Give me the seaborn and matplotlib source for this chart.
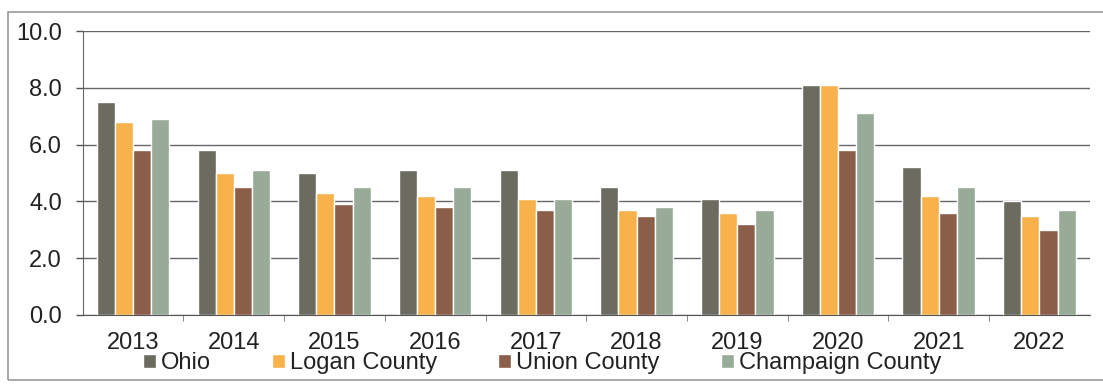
import matplotlib
matplotlib.use("Agg")
import matplotlib.pyplot as plt
import seaborn as sns
import pandas as pd
from matplotlib.patches import Rectangle

years = ["2013", "2014", "2015", "2016", "2017", "2018", "2019", "2020", "2021", "2022"]
ohio = [7.5, 5.8, 5.0, 5.1, 5.1, 4.5, 4.1, 8.1, 5.2, 4.0]
logan = [6.8, 5.0, 4.3, 4.2, 4.1, 3.7, 3.6, 8.1, 4.2, 3.5]
union = [5.8, 4.5, 3.9, 3.8, 3.7, 3.5, 3.2, 5.8, 3.6, 3.0]
champaign = [6.9, 5.1, 4.5, 4.5, 4.1, 3.8, 3.7, 7.1, 4.5, 3.7]

series = ["Ohio", "Logan County", "Union County", "Champaign County"]
colors = ["#6b6b5f", "#f7b24c", "#8a5e48", "#98aa98"]

rows = []
for name, vals in zip(series, [ohio, logan, union, champaign]):
    for y, v in zip(years, vals):
        rows.append({"year": y, "series": name, "value": v})
df = pd.DataFrame(rows)

sns.set_style("white")
plt.rcParams["font.family"] = ["Liberation Sans", "DejaVu Sans"]

fig = plt.figure(figsize=(11.03, 3.85), dpi=100)
ax = fig.add_axes([0.075, 0.182, 0.913, 0.737])

sns.barplot(data=df, x="year", y="value", hue="series", palette=colors,
            width=0.72, gap=0, saturation=1, ax=ax, legend=True)

ticks = [0, 2, 4, 6, 8, 10]
ax.set_ylim(0, 10)
ax.set_yticks(ticks)
ax.set_yticklabels([f"{t:.1f}" for t in ticks], fontsize=17, color="#222222")
ax.tick_params(axis="x", labelsize=17, labelcolor="#222222", length=0, pad=12)
ax.tick_params(axis="y", length=5, width=1, color="#555555", direction="out", pad=10, left=True)
ax.yaxis.grid(True, color="#666666", linewidth=1)
ax.set_axisbelow(True)
ax.set_xlabel("")
ax.set_ylabel("")
for s in ["top", "right"]:
    ax.spines[s].set_visible(False)
ax.spines["left"].set_color("#666666")
ax.spines["bottom"].set_color("#555555")
ax.set_xlim(-0.5, len(years) - 0.5)
# small ticks between categories
ax.set_xticks([i + 0.5 for i in range(len(years) - 1)], minor=True)
ax.tick_params(axis="x", which="minor", length=4, color="#777777", bottom=True)

handles, labels = ax.get_legend_handles_labels()
ax.legend_.remove()
fig.legend(handles, labels, loc="center left", bbox_to_anchor=(143 / 1103, 1 - 363 / 385),
           ncol=4, frameon=False, fontsize=17, handlelength=0.55, handleheight=0.55,
           handletextpad=0.2, columnspacing=2.6, borderaxespad=0, borderpad=0,
           labelcolor="#222222")

fig.patches.append(Rectangle((0.007, 0.014), 0.995, 0.955, transform=fig.transFigure,
                             fill=False, edgecolor="#999999", linewidth=1.2))

fig.savefig("out.png", dpi=100, facecolor="white")
